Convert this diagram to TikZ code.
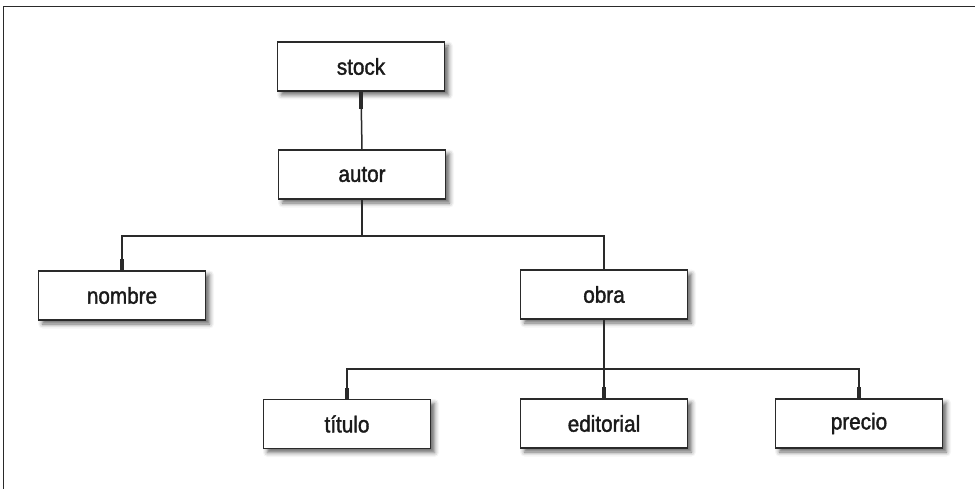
\documentclass[tikz,border=0pt]{standalone}
\usepackage{fontspec}
\setmainfont{Liberation Sans}[FakeStretch=0.9, FakeBold=1.6]
\usetikzlibrary{shadows.blur}
\definecolor{ink}{HTML}{2A2A2A}
\definecolor{txt}{HTML}{1A1A1A}
\tikzset{
  x=1pt, y=-1pt,
  entity/.style={draw=ink, line width=1.5pt, fill=white,
    minimum width=167pt, minimum height=49pt, inner sep=0pt,
    font=\fontsize{23}{26}\selectfont, text=txt,
    blur shadow={shadow xshift=4pt, shadow yshift=-4pt,
      shadow blur radius=4.5pt, shadow opacity=60}},
  link/.style={draw=ink, line width=1.5pt},
  stub/.style={draw=ink, line width=3.2pt},
  frameline/.style={draw=ink, line width=1.6pt}
}
\begin{document}
\begin{tikzpicture}
\useasboundingbox (0,0) rectangle (975,489);
% open frame: top and left edges only
\draw[frameline] (3.5,489) -- (3.5,6.5) -- (975,6.5);

% tree nodes
\node[entity] (stock)     at (361,66.5)  {stock};
\node[entity] (autor)     at (362,174.5) {autor};
\node[entity] (nombre)    at (122,295.5) {nombre};
\node[entity] (obra)      at (604,294.5) {obra};
\node[entity] (titulo)    at (347,424)   {título};
\node[entity] (editorial) at (604,423.5) {editorial};
\node[entity] (precio)    at (859,423.5) {precio};

% junction points of the branches
\coordinate (j1) at (autor.south |- 0,236);
\coordinate (j2) at (obra.south |- 0,369);

% connectors
\draw[link] (stock.south) -- (autor.north);
\draw[link] (autor.south) -- (j1);
\draw[link] (nombre.north) |- (j1) -| (obra.north);
\draw[link] (obra.south) -- (j2);
\draw[link] (titulo.north) |- (j2) -| (precio.north);
\draw[link] (j2) -- (editorial.north);

% heavier stubs where connectors meet the boxes
\draw[stub] (stock.south) -- ++(0,17);
\draw[stub] (nombre.north) -- ++(0,-11);
\draw[stub] (titulo.north) -- ++(0,-11);
\draw[stub] (editorial.north) -- ++(0,-11);
\draw[stub] (precio.north) -- ++(0,-11);
\end{tikzpicture}
\end{document}
